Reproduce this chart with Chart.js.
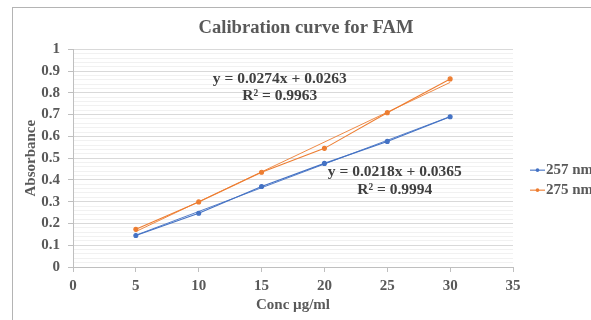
<!DOCTYPE html>
<html>
<head>
<meta charset="utf-8">
<script src="https://cdn.jsdelivr.net/npm/chart.js@4"></script>
<style>
  html, body { margin:0; padding:0; background:#fff; overflow:hidden; width:591px; height:320px; }
  #frame { position:absolute; left:12px; top:7px; border-left:1px solid #b4b4b4; border-top:1px solid #b4b4b4; width:600px; height:330px; }
  #chart { display:block; }
</style>
</head>
<body>
<div id="frame"><canvas id="chart" width="586" height="312"></canvas></div>
<script>
// datos
const conc = [5, 10, 15, 20, 25, 30];
const abs257 = [0.145, 0.247, 0.370, 0.476, 0.577, 0.690];
const abs275 = [0.173, 0.299, 0.435, 0.545, 0.709, 0.864];

// extremos de las líneas de tendencia (x = 5 y x = 30)
const trendX = [5, 30];
const trend257 = [0.146, 0.691];
const trend275 = [0.163, 0.848];

const eq257 = ["y = 0.0218x + 0.0365", "R² = 0.9994"];
const eq275 = ["y = 0.0274x + 0.0263", "R² = 0.9963"];

const BLUE = "#4472C4";
const ORANGE = "#ED7D31";
const TXT = "#595959";
const FONT = "'Liberation Serif', 'Times New Roman', serif";

const pts = (xs, ys) => xs.map((x, i) => ({ x, y: ys[i] }));

// ecuaciones de tendencia, ancladas en coordenadas de datos
const eqPlugin = {
  id: "eqLabels",
  afterDatasetsDraw(chart){
    const { ctx, scales:{ x, y } } = chart;
    ctx.save();
    ctx.font = "bold 15.5px " + FONT;
    ctx.fillStyle = "#404040";
    ctx.textAlign = "center";
    ctx.textBaseline = "middle";
    ctx.fillText(eq275[0], x.getPixelForValue(16.45), y.getPixelForValue(0.864));
    ctx.fillText(eq275[1], x.getPixelForValue(16.45), y.getPixelForValue(0.784));
    ctx.fillText(eq257[0], x.getPixelForValue(25.6), y.getPixelForValue(0.436));
    ctx.fillText(eq257[1], x.getPixelForValue(25.6), y.getPixelForValue(0.355));
    ctx.restore();
  }
};

// leyenda al estilo Excel (línea con marcador)
const legendPlugin = {
  id: "sideLegend",
  afterDraw(chart){
    const { ctx, chartArea } = chart;
    const items = chart.data.datasets.filter(d => !d.isTrend);
    const x0 = chartArea.right + 17;
    let yy = (chartArea.top + chartArea.bottom) / 2 + 12;
    ctx.save();
    ctx.font = "bold 15px " + FONT;
    ctx.textBaseline = "middle";
    ctx.textAlign = "left";
    items.forEach(d => {
      ctx.strokeStyle = d.borderColor;
      ctx.lineWidth = 1.1;
      ctx.beginPath();
      ctx.moveTo(x0, yy);
      ctx.lineTo(x0 + 15, yy);
      ctx.stroke();
      ctx.fillStyle = d.borderColor;
      ctx.beginPath();
      ctx.arc(x0 + 7.5, yy, 1.8, 0, Math.PI * 2);
      ctx.fill();
      ctx.fillStyle = TXT;
      ctx.fillText(d.label, x0 + 16, yy);
      yy += 20;
    });
    ctx.restore();
  }
};

new Chart(document.getElementById("chart"), {
  type: "scatter",
  data: {
    datasets: [
      { label: "257 nm", data: pts(conc, abs257), showLine: true, borderColor: BLUE, backgroundColor: BLUE,
        borderWidth: 1.1, pointRadius: 2, pointHoverRadius: 2, order: 1 },
      { label: "275 nm", data: pts(conc, abs275), showLine: true, borderColor: ORANGE, backgroundColor: ORANGE,
        borderWidth: 1.1, pointRadius: 2, pointHoverRadius: 2, order: 1 },
      { label: "tend 257", isTrend: true, data: pts(trendX, trend257), showLine: true, borderColor: BLUE,
        borderWidth: 0.9, pointRadius: 0, order: 2 },
      { label: "tend 275", isTrend: true, data: pts(trendX, trend275), showLine: true, borderColor: ORANGE,
        borderWidth: 0.9, pointRadius: 0, order: 2 }
    ]
  },
  options: {
    responsive: false,
    animation: false,
    layout: { padding: 0 },
    plugins: {
      legend: { display: false },
      tooltip: { enabled: false },
      title: {
        display: true,
        text: "Calibration curve for FAM",
        color: TXT,
        font: { family: FONT, size: 18.6, weight: "bold" },
        padding: { top: 9, bottom: 10 }
      }
    },
    scales: {
      x: {
        type: "linear",
        min: 0, max: 35,
        ticks: { stepSize: 5, color: TXT, padding: 5, font: { family: FONT, size: 15, weight: "bold" } },
        grid: { color: "rgba(0,0,0,0)", tickColor: "#bfbfbf", tickLength: 5 },
        border: { color: "#bfbfbf" },
        title: { display: true, text: "Conc µg/ml", color: TXT, padding: { top: 0, bottom: 6 },
          font: { family: FONT, size: 15, weight: "bold" } },
        afterFit(s){ s.height = 53; }
      },
      y: {
        min: 0, max: 1,
        ticks: {
          stepSize: 0.02,
          autoSkip: false,
          color: TXT,
          padding: 8,
          font: { family: FONT, size: 15, weight: "bold" },
          callback: (v, i) => i % 5 === 0 ? String(Math.round(v * 10) / 10) : ""
        },
        grid: {
          color: (c) => c.index % 5 === 0 ? "#d9d9d9" : "#f1f1f1",
          tickColor: (c) => c.index % 5 === 0 ? "#bfbfbf" : "rgba(0,0,0,0)",
          tickLength: 5
        },
        border: { color: "#bfbfbf" },
        title: { display: true, text: "Absorbance", color: TXT, padding: { top: 9, bottom: 0 },
          font: { family: FONT, size: 15, weight: "bold" } },
        afterFit(s){ s.width = 60; }
      },
      // eje vacío a la derecha: reserva el lugar de la leyenda
      yLeg: {
        position: "right",
        min: 0, max: 1,
        grid: { display: false },
        ticks: { display: false },
        border: { display: false },
        afterFit(s){ s.width = 86; }
      }
    }
  },
  plugins: [eqPlugin, legendPlugin]
});
</script>
</body>
</html>
